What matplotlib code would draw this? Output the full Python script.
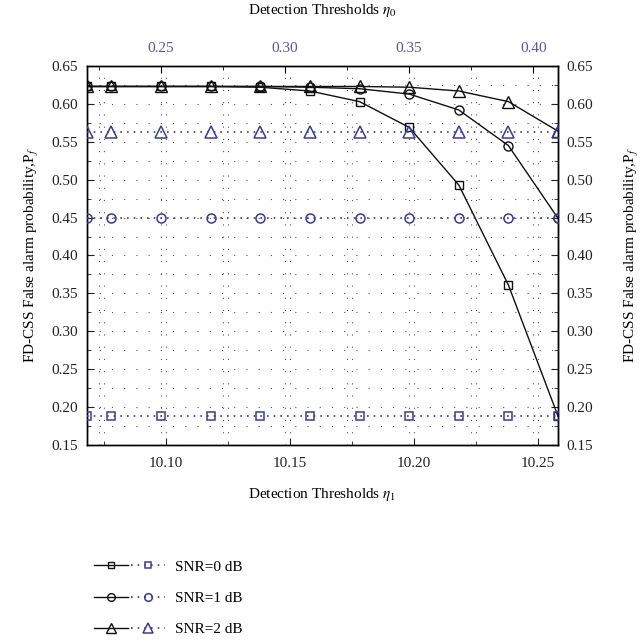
import numpy as np
import matplotlib.pyplot as plt
from matplotlib.legend_handler import HandlerTuple
from matplotlib.ticker import MultipleLocator

plt.rcParams['font.family'] = ['Liberation Serif', 'DejaVu Serif']
plt.rcParams['mathtext.fontset'] = 'stix'

# seuils de détection (axe du bas eta1, axe du haut eta0)
eta1 = [10.068, 10.078, 10.098, 10.118, 10.138, 10.158, 10.178, 10.198, 10.218, 10.238, 10.258]
eta0 = [0.22, 0.23, 0.25, 0.27, 0.29, 0.31, 0.33, 0.35, 0.37, 0.39, 0.41]

# Pf en fonction de eta1 (courbes noires)
pf_eta1_snr0 = [0.623, 0.623, 0.623, 0.623, 0.622, 0.617, 0.603, 0.569, 0.493, 0.361, 0.188]
pf_eta1_snr1 = [0.623, 0.623, 0.623, 0.623, 0.623, 0.622, 0.620, 0.613, 0.592, 0.545, 0.449]
pf_eta1_snr2 = [0.623, 0.623, 0.623, 0.623, 0.623, 0.623, 0.623, 0.622, 0.617, 0.603, 0.564]

# Pf en fonction de eta0 (courbes bleues)
pf_eta0_snr0 = [0.188] * 11
pf_eta0_snr1 = [0.449] * 11
pf_eta0_snr2 = [0.563] * 11

labels = ['SNR=0 dB', 'SNR=1 dB', 'SNR=2 dB']
markers = ['s', 'o', '^']
msizes = [5.5, 6.5, 8]
blue = '#3a3a9c'
blue_txt = '#5757a8'
grid_style = dict(color='#555555', linestyle=(0, (1, 10)), linewidth=0.8)

fig = plt.figure(figsize=(6.44, 6.42), dpi=100)
ax = fig.add_axes([0.1346, 0.3069, 0.7319, 0.5903])
ax_top = ax.twiny()

black_lines = []
for y, m, ms in zip([pf_eta1_snr0, pf_eta1_snr1, pf_eta1_snr2], markers, msizes):
    l, = ax.plot(eta1, y, color='#111111', lw=1.0, marker=m, ms=ms,
                 mfc='none', mec='#111111', mew=1.0, zorder=3)
    black_lines.append(l)

blue_lines = []
for y, m, ms in zip([pf_eta0_snr0, pf_eta0_snr1, pf_eta0_snr2], markers, msizes):
    l, = ax_top.plot(eta0, y, color=blue, lw=1.2, linestyle=(0, (1, 3)), marker=m, ms=ms,
                     mfc='none', mec=blue, mew=1.1, zorder=3)
    blue_lines.append(l)

ax.set_xlim(10.068, 10.258)
ax_top.set_xlim(0.22, 0.41)
ax.set_ylim(0.15, 0.65)

ax.xaxis.set_major_locator(MultipleLocator(0.05))
ax.xaxis.set_minor_locator(MultipleLocator(0.025))
ax_top.xaxis.set_major_locator(MultipleLocator(0.05))
ax_top.xaxis.set_minor_locator(MultipleLocator(0.025))
ax.yaxis.set_major_locator(MultipleLocator(0.05))
ax.yaxis.set_minor_locator(MultipleLocator(0.025))
ax.xaxis.set_major_formatter(plt.FormatStrFormatter('%.2f'))
ax_top.xaxis.set_major_formatter(plt.FormatStrFormatter('%.2f'))
ax.yaxis.set_major_formatter(plt.FormatStrFormatter('%.2f'))

ax.grid(True, which='both', axis='both', **grid_style)
ax_top.grid(True, which='both', axis='x', **grid_style)
ax.set_axisbelow(True)

ax.tick_params(which='both', direction='in', left=True, right=True, bottom=True, top=False,
               labelright=True, labelsize=11, pad=6, colors='#222222')
ax.tick_params(axis='x', pad=8.5)
ax.tick_params(which='major', length=5)
ax.tick_params(which='minor', length=3)
ax_top.tick_params(which='both', direction='in', labelsize=11, pad=8)
ax_top.tick_params(which='major', length=5)
ax_top.tick_params(which='minor', length=3)
ax_top.tick_params(axis='x', labelcolor=blue_txt)

for a in (ax, ax_top):
    for s in a.spines.values():
        s.set_linewidth(1.0)

ylab = 'FD-CSS False alarm probability,P$_f$'
ax.set_ylabel(ylab, fontsize=11, labelpad=8)
sec = ax.secondary_yaxis('right')
sec.tick_params(which='both', length=0, labelright=False)
sec.set_ylabel(ylab, fontsize=11, rotation=90, labelpad=47)
ax.set_xlabel('Detection Thresholds $\\eta_1$', fontsize=11, labelpad=12)
ax_top.set_xlabel('Detection Thresholds $\\eta_0$', fontsize=11, labelpad=20)

handles = [(b, c) for b, c in zip(black_lines, blue_lines)]
fig.legend(handles, labels, loc='upper left', bbox_to_anchor=(0.124, 0.149),
           handler_map={tuple: HandlerTuple(ndivide=None, pad=0.2)},
           frameon=False, numpoints=1, handlelength=4.7, fontsize=11,
           labelspacing=1.15, handletextpad=0.6, markerscale=0.85)

fig.savefig('out.png', dpi=100)
